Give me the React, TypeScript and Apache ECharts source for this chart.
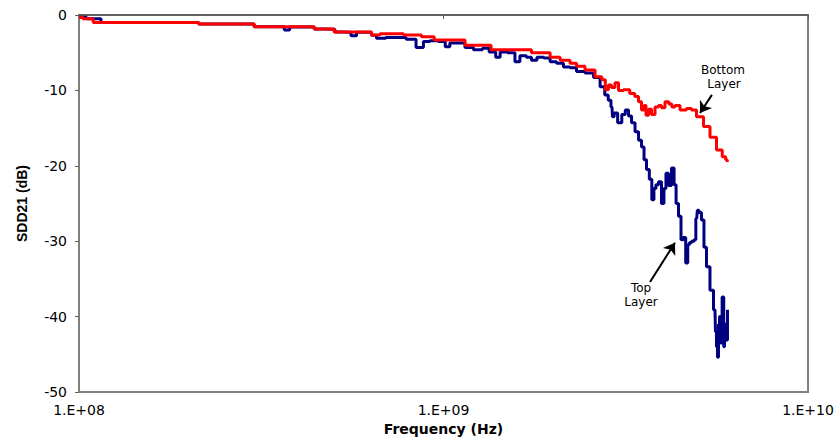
import React, { useEffect, useRef } from "react";
import * as echarts from "echarts";

// Frequencies in GHz, SDD21 in dB
const bottomFreq = [
  0.1, 0.105, 0.114, 0.211, 0.215, 0.3, 0.305, 0.439, 0.445, 0.497, 0.505, 0.629, 0.64, 0.7, 0.862, 0.878,
  0.936, 0.95, 1.131, 1.16, 1.341, 1.36, 1.727, 1.76, 1.923, 2.0, 2.182, 2.266, 2.369, 2.523, 2.688, 2.75,
  2.809, 2.86, 2.917, 2.992, 3.05, 3.187, 3.3, 3.396, 3.461, 3.527, 3.572, 3.617, 3.686, 3.757, 3.853, 3.926,
  4.001, 4.104, 4.2, 4.263, 4.372, 4.54, 4.745, 4.836, 5.054, 5.283, 5.487, 5.736, 5.9, 5.996, 6.034,
];
const bottomDb = [
  -0.3, -0.5, -1.0, -1.0, -1.2, -1.2, -1.55, -1.55, -1.85, -1.85, -2.25, -2.25, -2.65, -2.5, -2.65, -2.9,
  -2.9, -3.3, -3.3, -4.0, -4.0, -4.6, -4.6, -5.0, -5.0, -5.6, -6.0, -6.4, -6.8, -7.3, -8.2, -8.6,
  -9.9, -9.3, -9.6, -9.0, -10.0, -9.9, -10.4, -10.8, -11.5, -12.6, -12.0, -13.3, -12.5, -13.2, -12.2, -12.0,
  -12.3, -11.5, -11.8, -12.2, -12.0, -12.6, -12.4, -12.6, -13.5, -14.8, -16.2, -17.9, -18.8, -19.2, -19.5,
];

const topFreq = [
  0.1, 0.11, 0.12, 0.211, 0.215, 0.3, 0.305, 0.36, 0.372, 0.385, 0.439, 0.445, 0.497, 0.51, 0.55, 0.565,
  0.59, 0.629, 0.64, 0.67, 0.72, 0.76, 0.82, 0.862, 0.9, 0.936, 1.0, 1.022, 1.06, 1.131, 1.16, 1.259,
  1.3, 1.37, 1.411, 1.45, 1.55, 1.591, 1.65, 1.727, 1.76, 1.85, 1.923, 2.0, 2.087, 2.182, 2.266, 2.369,
  2.523, 2.64, 2.739, 2.8, 2.862, 2.899, 2.917, 2.96, 3.049, 3.12, 3.187, 3.25, 3.311, 3.396, 3.461, 3.527,
  3.572, 3.64, 3.7, 3.757, 3.8, 3.853, 3.926, 4.001, 4.05, 4.104, 4.18, 4.263, 4.32, 4.372, 4.455, 4.512,
  4.58, 4.656, 4.7, 4.745, 4.836, 4.898, 4.95, 4.991, 5.054, 5.15, 5.216, 5.316, 5.452, 5.557, 5.59, 5.628,
  5.664, 5.7, 5.736, 5.78, 5.846, 5.9, 5.95, 5.996, 6.034,
];
const topDb = [
  -0.3, -0.5, -1.0, -1.0, -1.2, -1.2, -1.55, -1.55, -2.0, -1.6, -1.6, -1.85, -1.9, -2.25, -2.3, -2.75,
  -2.3, -2.3, -2.7, -3.1, -3.0, -3.0, -3.2, -4.3, -3.5, -3.4, -3.5, -4.2, -3.7, -3.7, -4.3, -4.6,
  -4.4, -4.9, -5.6, -4.9, -5.0, -6.2, -5.4, -5.6, -6.0, -5.6, -5.7, -6.2, -6.4, -6.9, -7.0, -7.5,
  -7.7, -8.3, -9.5, -10.6, -11.3, -12.2, -13.5, -13.0, -14.3, -13.2, -12.6, -13.4, -14.3, -15.5, -16.6, -17.5,
  -19.2, -20.5, -21.8, -24.5, -23.0, -22.5, -22.1, -25.0, -23.0, -21.0, -22.6, -20.3, -22.5, -25.0, -26.7, -29.8,
  -29.5, -32.9, -30.5, -30.2, -30.0, -29.8, -27.0, -25.9, -26.2, -27.2, -30.8, -33.4, -36.5, -39.1, -42.0, -44.0,
  -45.4, -41.0, -40.0, -43.5, -37.4, -44.0, -41.0, -43.1, -39.1,
];

const yTicks = [0, -10, -20, -30, -40, -50];
const xTickLabels = ["1.E+08", "1.E+09", "1.E+10"];

const bottomArrow = [
  [5.45, -10.6],
  [5.054, -13.0],
];
const topArrow = [
  [3.686, -35.4],
  [4.316, -30.2],
];

export default function App() {
  const ref = useRef<HTMLDivElement>(null);
  useEffect(() => {
    if (!ref.current) return;
    const chart = echarts.init(ref.current, null, { renderer: "svg" });
    const zip = (f: number[], v: number[]) => f.map((x, i) => [x, v[i]]);
    const arrowLine = (a: number[][]) => ({
      silent: true,
      symbol: ["none", "arrow"],
      symbolSize: 11,
      label: { show: false },
      lineStyle: { color: "#000", width: 2, type: "solid" },
      data: [[{ coord: a[0] }, { coord: a[1] }]],
    });
    const note = (text: string, x: number, y: number) => ({
      type: "text",
      x,
      y,
      style: {
        text,
        align: "center",
        verticalAlign: "middle",
        fontFamily: "DejaVu Sans",
        fontSize: 12,
        fill: "#000",
      },
    });
    chart.setOption({
      animation: false,
      backgroundColor: "#fff",
      grid: {
        left: 79,
        right: 29,
        top: 15,
        bottom: 51,
        show: true,
        borderColor: "#808080",
        borderWidth: 2,
      },
      xAxis: {
        type: "log",
        logBase: 10,
        min: 0.1,
        max: 10,
        name: "Frequency (Hz)",
        nameLocation: "middle",
        nameGap: 30,
        nameTextStyle: { fontFamily: "DejaVu Sans", fontWeight: "bold", fontSize: 14, color: "#000" },
        axisLine: { lineStyle: { color: "#606060", width: 2 } },
        axisTick: { show: true, length: 4, lineStyle: { color: "#606060" } },
        splitLine: { show: false },
        minorTick: { show: false },
        axisLabel: {
          margin: 11,
          fontFamily: "DejaVu Sans",
          fontSize: 14,
          color: "#000",
          formatter: (v: number) => {
            const e = Math.round(Math.log10(v * 1e9));
            return xTickLabels[e - 8] ?? "";
          },
        },
      },
      yAxis: {
        type: "value",
        min: -50,
        max: 0,
        interval: 10,
        name: "SDD21 (dB)",
        nameLocation: "middle",
        nameGap: 50,
        nameTextStyle: { fontFamily: "Liberation Sans", fontWeight: "bold", fontSize: 14, color: "#000" },
        axisLine: { show: true, lineStyle: { color: "#808080", width: 2 } },
        axisTick: { show: true, length: 4, lineStyle: { color: "#606060" } },
        splitLine: { show: false },
        axisLabel: {
          margin: 12,
          fontFamily: "DejaVu Sans",
          fontSize: 14,
          color: "#000",
          formatter: (v: number) => (yTicks.includes(v) ? String(v) : ""),
        },
      },
      series: [
        {
          name: "Top Layer",
          type: "line",
          data: zip(topFreq, topDb),
          step: "middle",
          showSymbol: false,
          symbol: "none",
          lineStyle: { color: "#000080", width: 3 },
          markLine: arrowLine(topArrow),
          z: 2,
        },
        {
          name: "Bottom Layer",
          type: "line",
          data: zip(bottomFreq, bottomDb),
          step: "middle",
          showSymbol: false,
          symbol: "none",
          lineStyle: { color: "#ff0000", width: 3 },
          markLine: arrowLine(bottomArrow),
          z: 3,
        },
      ],
      graphic: [
        note("Bottom", 723, 70),
        note("Layer", 724, 84),
        note("Top", 641, 288),
        note("Layer", 641, 302),
      ],
    });
    return () => chart.dispose();
  }, []);
  return <div ref={ref} style={{ position: "absolute", left: 0, top: 0, width: 837, height: 443 }} />;
}
